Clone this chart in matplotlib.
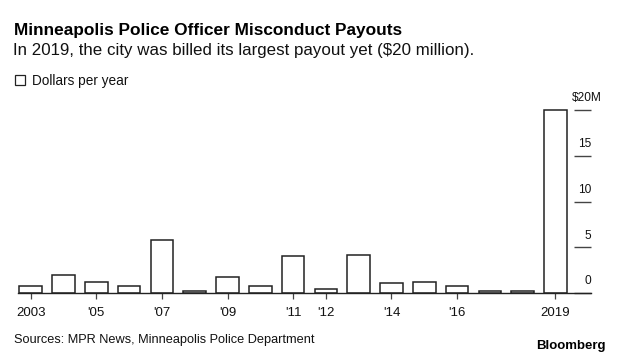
import matplotlib
matplotlib.use("Agg")
import matplotlib.pyplot as plt
import matplotlib.transforms as mtransforms
from matplotlib.patches import Rectangle

years = list(range(2003, 2020))
payouts = [0.73, 1.97, 1.17, 0.73, 5.83, 0.22, 1.79, 0.73, 4.08, 0.40,
           4.19, 1.06, 1.17, 0.73, 0.2, 0.22, 20.0]
xtick_years = [2003, 2005, 2007, 2009, 2011, 2012, 2014, 2016, 2019]
xtick_labels = ["2003", "'05", "'07", "'09", "'11", "'12", "'14", "'16", "2019"]
ytick_vals = [0, 5, 10, 15, 20]
ytick_labels = ["0", "5", "10", "15", "$20M"]

title = "Minneapolis Police Officer Misconduct Payouts"
subtitle = "In 2019, the city was billed its largest payout yet ($20 million)."
legend_label = "Dollars per year"
source = "Sources: MPR News, Minneapolis Police Department"

plt.rcParams['font.family'] = ['Liberation Sans', 'DejaVu Sans']

W, H = 620, 358
fig = plt.figure(figsize=(W / 100, H / 100), dpi=100)

def px(x, y):
    return x / W, 1 - y / H

left, right, top, bottom = 18, 590.5, 110, 293
ax = fig.add_axes([left / W, 1 - bottom / H, (right - left) / W, (bottom - top) / H])
ax.bar(years, payouts, width=0.69, color='white', edgecolor='#222222',
       linewidth=1.1, clip_on=False, zorder=2)
ax.set_xlim(2002.61, 2020.07)
ax.set_ylim(0, 20)

for s in ['top', 'left', 'right']:
    ax.spines[s].set_visible(False)
ax.spines['bottom'].set_color('#222222')
ax.spines['bottom'].set_linewidth(1.0)
ax.spines['bottom'].set_zorder(3)

ax.set_xticks(xtick_years)
ax.set_xticklabels(xtick_labels, fontsize=9.5)
ax.tick_params(axis='x', direction='out', length=4, width=0.9, color='#444444',
               pad=6, labelcolor='#111111')

ax.yaxis.tick_right()
ax.set_yticks(ytick_vals)
ax.set_yticklabels([])
ax.tick_params(axis='y', direction='in', length=12.0, width=1.0, color='#444444',
               labelright=False)

trans = mtransforms.blended_transform_factory(ax.transAxes, ax.transData)
for v, lab in zip(ytick_vals, ytick_labels):
    if lab.startswith('$'):
        ax.annotate(lab, xy=(1.0, v), xycoords=trans, xytext=(-2.5, 4.0),
                    textcoords='offset points', ha='center', va='bottom',
                    fontsize=8.6, color='#111111')
    else:
        ax.annotate(lab, xy=(1.0, v), xycoords=trans, xytext=(0.6, 4.0),
                    textcoords='offset points', ha='right', va='bottom',
                    fontsize=8.6, color='#111111')

fig.text(*px(14, 35), title, fontsize=12.4, fontweight='bold', va='baseline',
         ha='left', color='#000000')
fig.text(*px(13, 55), subtitle, fontsize=12.2, va='baseline', ha='left',
         color='#111111')
fig.patches.append(Rectangle(px(15, 85), 10 / W, 10 / H, transform=fig.transFigure,
                             facecolor='white', edgecolor='#222222', linewidth=0.9))
fig.text(*px(32, 85), legend_label, fontsize=9.8, va='baseline', ha='left',
         color='#111111')
fig.text(*px(14, 343), source, fontsize=9.15, va='baseline', ha='left',
         color='#111111')
fig.text(*px(606, 349), "Bloomberg", fontsize=9.5, fontweight='bold',
         va='baseline', ha='right', color='#000000')

fig.savefig("out.png", dpi=100)
